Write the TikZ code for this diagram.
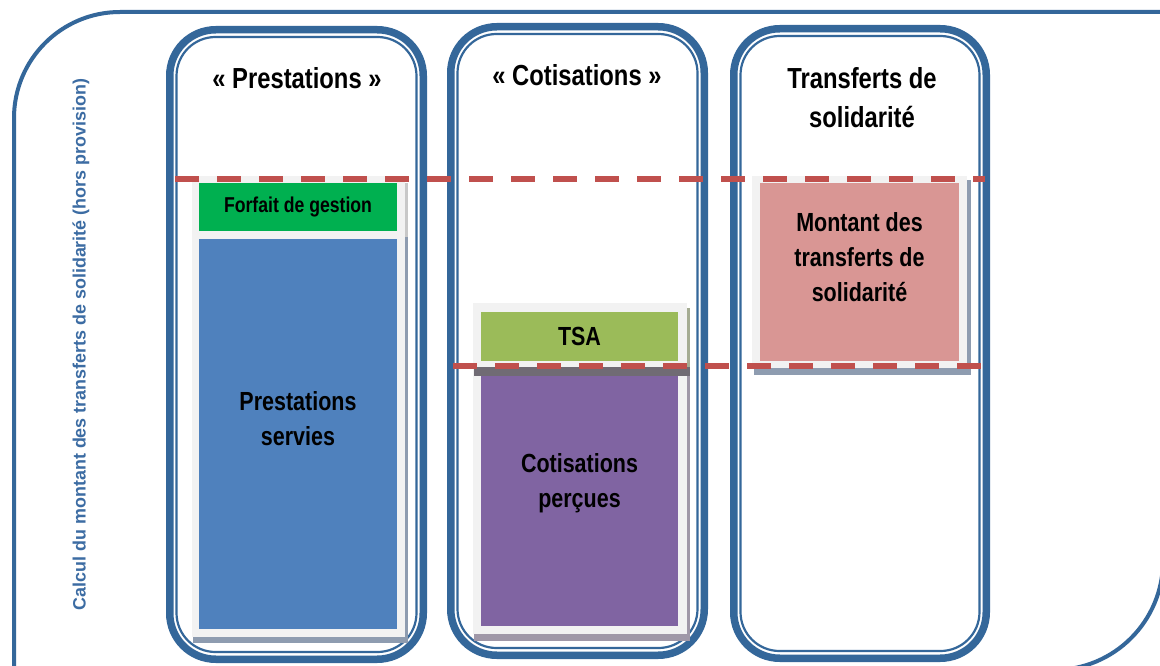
\documentclass[tikz,border=0pt]{standalone}
\usepackage{fontspec}
\setmainfont{Liberation Sans}[FakeStretch=0.82]
\newfontfamily\vfont{Liberation Sans}
\definecolor{frameblue}{RGB}{52,103,154}
\definecolor{dashred}{RGB}{192,80,77}
\definecolor{panelgray}{RGB}{242,242,242}
\definecolor{forfaitgreen}{RGB}{0,176,80}
\definecolor{presblue}{RGB}{79,129,189}
\definecolor{tsagreen}{RGB}{155,187,89}
\definecolor{cotpurple}{RGB}{128,100,162}
\definecolor{transpink}{RGB}{217,150,148}
\definecolor{shadowblue}{RGB}{142,156,176}
\definecolor{shadowpurple}{RGB}{160,152,168}
\definecolor{shadowlight}{RGB}{200,200,200}
\definecolor{shadowolive}{RGB}{165,172,147}
\definecolor{shadowdark}{RGB}{112,107,116}
\definecolor{vtext}{RGB}{60,108,163}
\tikzset{
  frameline/.style={draw=frameblue, line width=4pt},
  colthick/.style={draw=frameblue, line width=7.5pt, rounded corners=46pt},
  colthin/.style={draw=frameblue, line width=2.2pt, rounded corners=39pt},
  boxnode/.style={draw=none, anchor=north west, inner sep=0pt, outer sep=0pt},
  dashline/.style={draw=dashred, line width=6pt, dash pattern=on 24pt off 18pt},
  bigtxt/.style={font=\bfseries\fontsize{26.2}{35}\selectfont, align=center, inner sep=0pt},
  titletxt/.style={font=\bfseries\fontsize{29}{39}\selectfont, align=center, inner sep=0pt},
  smalltxt/.style={font=\bfseries\fontsize{21.5}{26}\selectfont, align=center, inner sep=0pt},
}
\begin{document}
\begin{tikzpicture}[x=1pt, y=-1pt]
\useasboundingbox (0,0) rectangle (1160,666);
\fill[white] (0,0) rectangle (1160,666);
% outer frame
\draw[frameline, rounded corners=106pt] (14,720) -- (14,12) -- (1200,12);
\draw[frameline, rounded corners=109pt] (1163,300) -- (1163,670) -- (900,670);
% columns
\draw[colthick] (169.75,29.75) rectangle (423.25,659.25);
\draw[colthin] (176.5,37) rectangle (416.5,652);
\draw[colthick] (450.75,26.75) rectangle (704.25,655.25);
\draw[colthin] (457.5,34) rectangle (697.5,648);
\draw[colthick] (733.75,28.75) rectangle (986.25,658.25);
\draw[colthin] (740.5,36) rectangle (979.5,651);
% titles
\node[titletxt] (t1) at (297,78) {« Prestations »};
\node[titletxt] (t2) at (577,75) {« Cotisations »};
\node[titletxt] (t3) at (862,98) {Transferts de\\solidarité};
% column 1 panel and shadows
\fill[shadowlight] (405,183) rectangle (408,237);
\fill[shadowblue] (405,237) rectangle (408,643);
\fill[shadowblue] (193,637) rectangle (408,643);
\fill[panelgray] (192,176) rectangle (405,637);
\node[boxnode, fill=forfaitgreen, minimum width=198pt, minimum height=48pt] (forfait) at (199,183) {};
\node[boxnode, fill=presblue, minimum width=198pt, minimum height=390pt] (servies) at (199,239) {};
% column 2 panel and shadows
\fill[shadowolive] (687,308) rectangle (690,368);
\fill[shadowpurple] (687,375) rectangle (690,641);
\fill[shadowpurple] (474,634) rectangle (690,641);
\fill[panelgray] (473,303) rectangle (687,634);
\node[boxnode, fill=tsagreen, minimum width=197pt, minimum height=49pt] (tsa) at (481,312) {};
\node[boxnode, fill=cotpurple, minimum width=197pt, minimum height=256pt] (percues) at (481,370) {};
\fill[shadowdark] (474,367) rectangle (690,376);
% column 3 panel and shadows
\fill[shadowblue] (967,180) rectangle (971,375);
\fill[shadowblue] (754,368) rectangle (971,375);
\fill[panelgray] (752,176) rectangle (967,368);
\node[boxnode, fill=transpink, minimum width=199pt, minimum height=178pt] (montant) at (760,183) {};
% dashed lines
\coordinate (d1a) at (175,179);
\coordinate (d1b) at (985,179);
\coordinate (d2a) at (453,365.5);
\coordinate (d2b) at (981,365.5);
\draw[dashline] (d1a) -- (d1b);
\draw[dashline] (d2a) -- (d2b);
% box texts
\node[smalltxt] (tforfait) at (forfait.center) {Forfait de gestion};
\node[bigtxt] (tservies) at ([yshift=15pt]servies.center) {Prestations\\servies};
\node[bigtxt] (ttsa) at (tsa.center) {TSA};
\node[bigtxt] (tpercues) at ([yshift=15pt]percues.center) {Cotisations\\perçues};
\node[bigtxt] (tmontant) at ([yshift=15pt]montant.center) {Montant des\\transferts de\\solidarité};
% vertical label
\node[rotate=90, font=\vfont\bfseries\fontsize{17.9}{20}\selectfont, text=vtext, inner sep=0pt] (vlabel) at (81,344.5) {Calcul du montant des transferts de solidarité (hors provision)};
\end{tikzpicture}
\end{document}
